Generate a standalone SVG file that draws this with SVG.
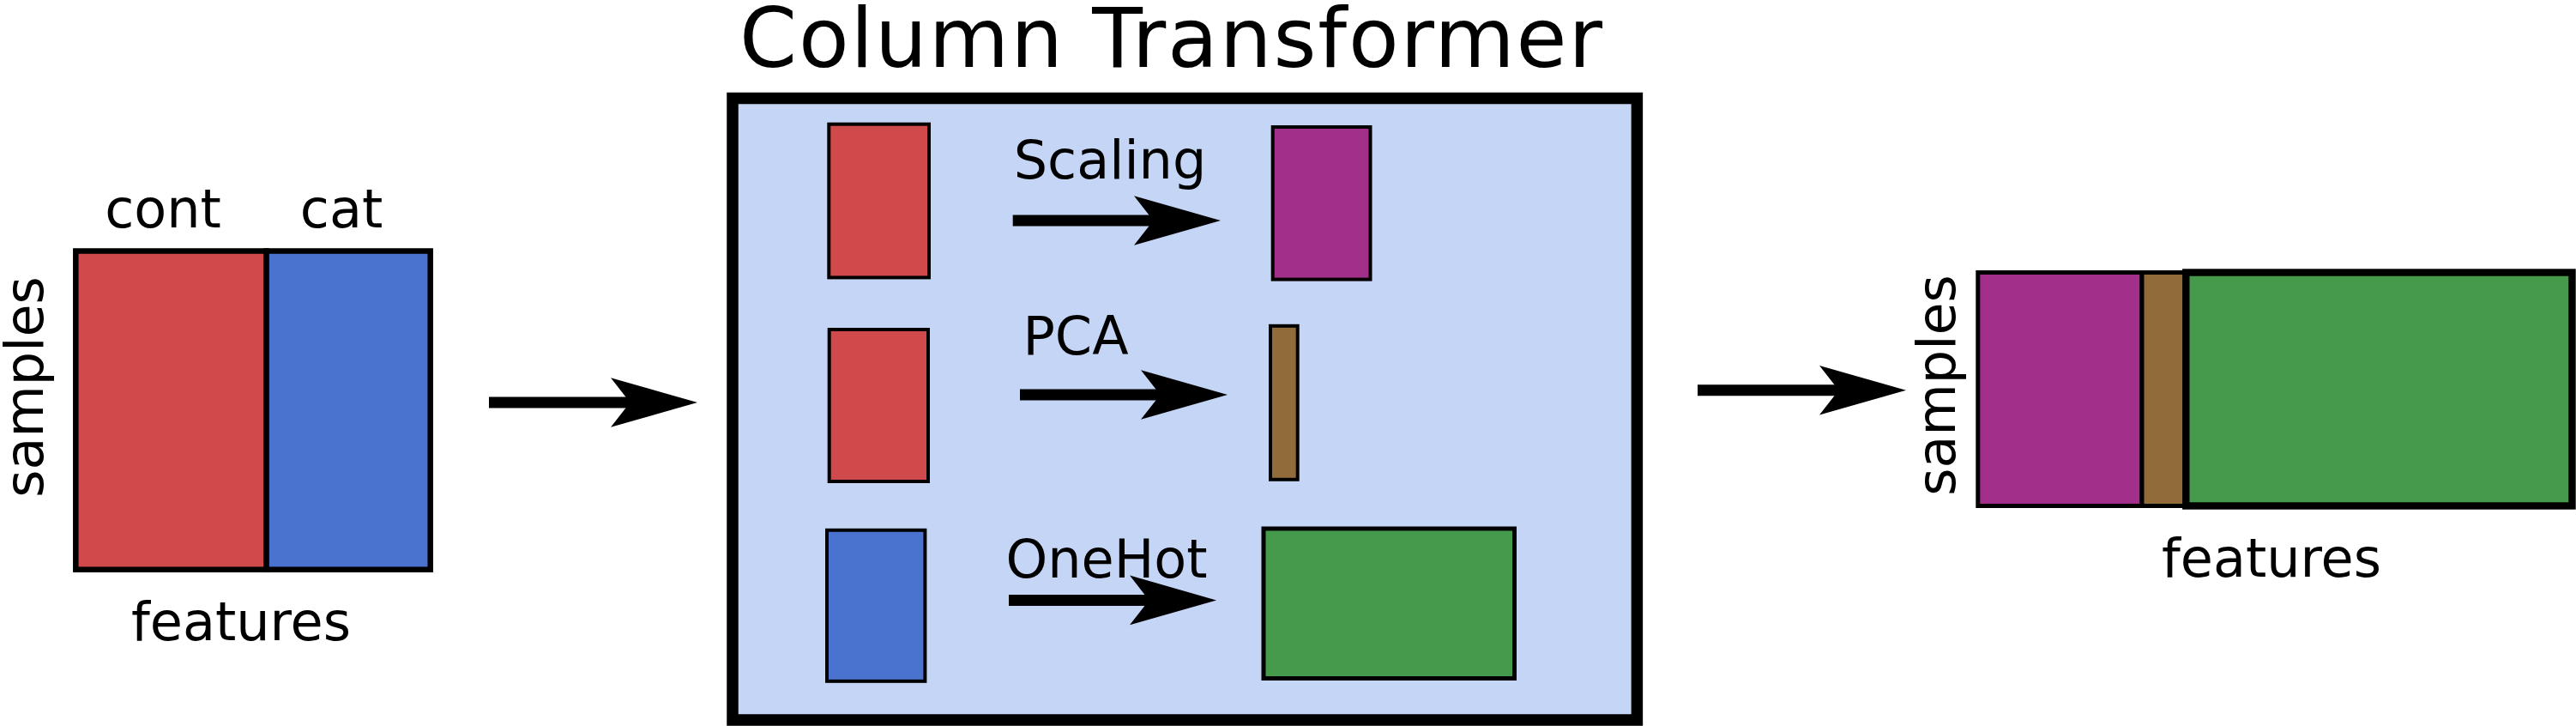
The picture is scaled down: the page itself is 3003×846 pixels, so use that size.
<svg xmlns="http://www.w3.org/2000/svg" xmlns:xlink="http://www.w3.org/1999/xlink" width="3003" height="846" viewBox="0 0 3003 846">
<style>
  text { font-family: "DejaVu Sans", "Liberation Sans", sans-serif; fill: #000; }
  .lbl { font-size: 62px; }
  .title { font-size: 96px; }
  .red { fill: #d04a4b; }
  .blue { fill: #4a72cf; }
  .purple { fill: #a2308b; }
  .brown { fill: #926b3b; }
  .green { fill: #459a4b; }
  .thin { stroke: #000; stroke-width: 4; }
  .shaft { stroke: #000; stroke-width: 13; fill: none; }
</style>
<defs>
  <path id="head" d="M 0,0 L -101,-28.8 L -78.5,0 L -101,28.8 Z" fill="#000"/>
</defs>
<rect width="3003" height="846" fill="#fff"/>

<g id="input-matrix">
  <rect class="red" x="88.3" y="292.5" width="222.3" height="371.2" stroke="#000" stroke-width="6.5"/>
  <rect class="blue" x="310.6" y="292.5" width="191.1" height="371.2" stroke="#000" stroke-width="6.5"/>
  <text class="lbl" x="190" y="265" text-anchor="middle">cont</text>
  <text class="lbl" x="398" y="265" text-anchor="middle">cat</text>
  <text class="lbl" x="281" y="746" text-anchor="middle">features</text>
  <text class="lbl" transform="translate(50,451) rotate(-90)" text-anchor="middle">samples</text>
</g>

<g id="column-transformer">
  <rect x="854" y="114.5" width="1054.4" height="724.5" fill="#c5d5f5" stroke="#000" stroke-width="13.5"/>
  <text class="title" x="862" y="78" textLength="1006" lengthAdjust="spacing">Column Transformer</text>
</g>

<g id="cont-scaling-in"><rect class="red thin" x="966.3" y="144.7" width="116.7" height="178.7"/></g>
<g id="scaling-out"><rect class="purple thin" x="1483.7" y="148" width="113.8" height="177.6"/></g>
<g id="cont-pca-in"><rect class="red thin" x="966.7" y="384" width="115.3" height="177"/></g>
<g id="pca-out"><rect class="brown thin" x="1481" y="379.8" width="31.7" height="179"/></g>
<g id="cat-onehot-in"><rect class="blue thin" x="964" y="617.8" width="114.4" height="176"/></g>
<g id="onehot-out"><rect class="green" x="1473" y="616" width="292.5" height="174.5" stroke="#000" stroke-width="5"/></g>

<g id="output-matrix">
  <rect class="purple" x="2305.8" y="317.5" width="191.2" height="272" stroke="#000" stroke-width="5"/>
  <rect class="brown" x="2497" y="317.5" width="51" height="272" stroke="#000" stroke-width="5"/>
  <rect class="green" x="2548.3" y="317.5" width="450.2" height="272" stroke="#000" stroke-width="8.4"/>
  <text class="lbl" x="2648" y="671.5" text-anchor="middle">features</text>
  <text class="lbl" transform="translate(2279,449) rotate(-90)" text-anchor="middle">samples</text>
</g>

<g id="connectors">
  <line class="shaft" x1="570" y1="469" x2="740" y2="469"/>
  <use xlink:href="#head" transform="translate(813,469)"/>

  <line class="shaft" x1="1180.7" y1="257" x2="1350" y2="257"/>
  <use xlink:href="#head" transform="translate(1423,257)"/>
  <text class="lbl" x="1294" y="208" text-anchor="middle">Scaling</text>

  <line class="shaft" x1="1189" y1="460" x2="1358" y2="460"/>
  <use xlink:href="#head" transform="translate(1431,460)"/>
  <text class="lbl" x="1254" y="413" text-anchor="middle">PCA</text>

  <line class="shaft" x1="1176" y1="699.4" x2="1345" y2="699.4"/>
  <use xlink:href="#head" transform="translate(1418,699.4)"/>
  <text class="lbl" x="1290" y="673" text-anchor="middle">OneHot</text>

  <line class="shaft" x1="1979" y1="454.7" x2="2149" y2="454.7"/>
  <use xlink:href="#head" transform="translate(2222,454.7)"/>
</g>
</svg>
